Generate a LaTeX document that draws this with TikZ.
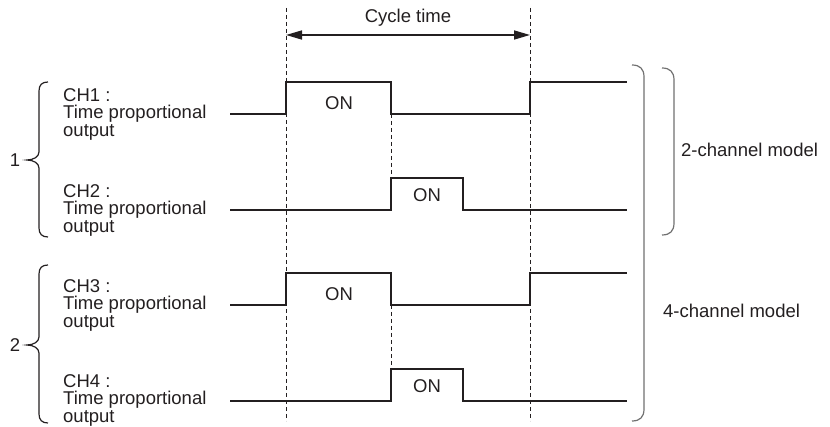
\documentclass[tikz,border=0pt]{standalone}
\usepackage{fontspec}
\setmainfont{Liberation Sans}
\usepackage{xcolor}
\definecolor{WaveInk}{HTML}{231F20}
\definecolor{BracketGray}{HTML}{707070}
\usepackage{tikz}
\usetikzlibrary{arrows.meta,positioning}

\begin{document}
\begin{tikzpicture}[
  x=1pt,y=-1pt,
  txt/.style={font=\fontsize{18.5}{17.5}\selectfont,text=WaveInk,inner sep=0pt},
  chtxt/.style={txt,anchor=west,align=left},
  wave/.style={line width=1.8pt,draw=WaveInk,line join=miter},
  guide/.style={line width=0.8pt,draw=WaveInk,dash pattern=on 4pt off 3pt},
  span/.style={{Triangle[length=16pt,width=9pt]}-{Triangle[length=16pt,width=9pt]},line width=1.6pt,draw=WaveInk},
  leftbrace/.style={line width=1.2pt,draw=WaveInk},
  rightbracket/.style={line width=1.2pt,draw=BracketGray}
]
\useasboundingbox (0,0) rectangle (830,427);
% dashed timing guides
\draw[guide] (286,8) -- (286,421);
\draw[guide] (530,8) -- (530,421);
\draw[guide] (391,114) -- (391,178);
\draw[guide] (391,305) -- (391,369);
% cycle time
\coordinate (cycL) at (286,35);
\coordinate (cycR) at (530,35);
\draw[span] (cycL) -- (cycR);
\node[txt] (cycle) at (408,18) {Cycle time};
% waveforms
\draw[wave] (230,114) -- (286,114) -- (286,82) -- (391,82) -- (391,114) -- (530,114) -- (530,82) -- (627,82);
\draw[wave] (230,210) -- (391,210) -- (391,178) -- (463,178) -- (463,210) -- (627,210);
\draw[wave] (230,305) -- (286,305) -- (286,273) -- (391,273) -- (391,305) -- (530,305) -- (530,273) -- (627,273);
\draw[wave] (230,401) -- (391,401) -- (391,369) -- (463,369) -- (463,401) -- (627,401);
\node[txt] (on1) at (339,103) {ON};
\node[txt] (on2) at (427,195) {ON};
\node[txt] (on3) at (339,294) {ON};
\node[txt] (on4) at (427,386) {ON};
% channel labels
\node[chtxt] (ch1) at (63,114) {CH1 :\\Time proportional\\output};
\node[chtxt] (ch2) at (63,210) {CH2 :\\Time proportional\\output};
\node[chtxt] (ch3) at (63,305) {CH3 :\\Time proportional\\output};
\node[chtxt] (ch4) at (63,400) {CH4 :\\Time proportional\\output};
% groups on the left
\draw[leftbrace] (48,82) .. controls (42,82) and (39,85) .. (39,91) -- (39,152)
  .. controls (39,157) and (33,160) .. (27,160) .. controls (33,160) and (39,163) .. (39,168)
  -- (39,228) .. controls (39,234) and (42,237) .. (48,237);
\draw[leftbrace] (48,265) .. controls (42,265) and (39,268) .. (39,274) -- (39,337)
  .. controls (39,342) and (33,345) .. (27,345) .. controls (33,345) and (39,348) .. (39,353)
  -- (39,414) .. controls (39,420) and (42,423) .. (48,423);
\node[txt] (grp1) at (15,160) {1};
\node[txt] (grp2) at (15,345) {2};
% models on the right
\draw[rightbracket] (662,68) .. controls (670,68) and (674,72) .. (674,80) -- (674,223)
  .. controls (674,231) and (670,235) .. (662,235);
\draw[rightbracket] (632,65) .. controls (640,65) and (644,69) .. (644,77) -- (644,409)
  .. controls (644,417) and (640,421) .. (632,421);
\node[txt,anchor=west] (two) at (681,150) {2-channel model};
\node[txt,anchor=west] (four) at (663,311) {4-channel model};
\end{tikzpicture}
\end{document}
